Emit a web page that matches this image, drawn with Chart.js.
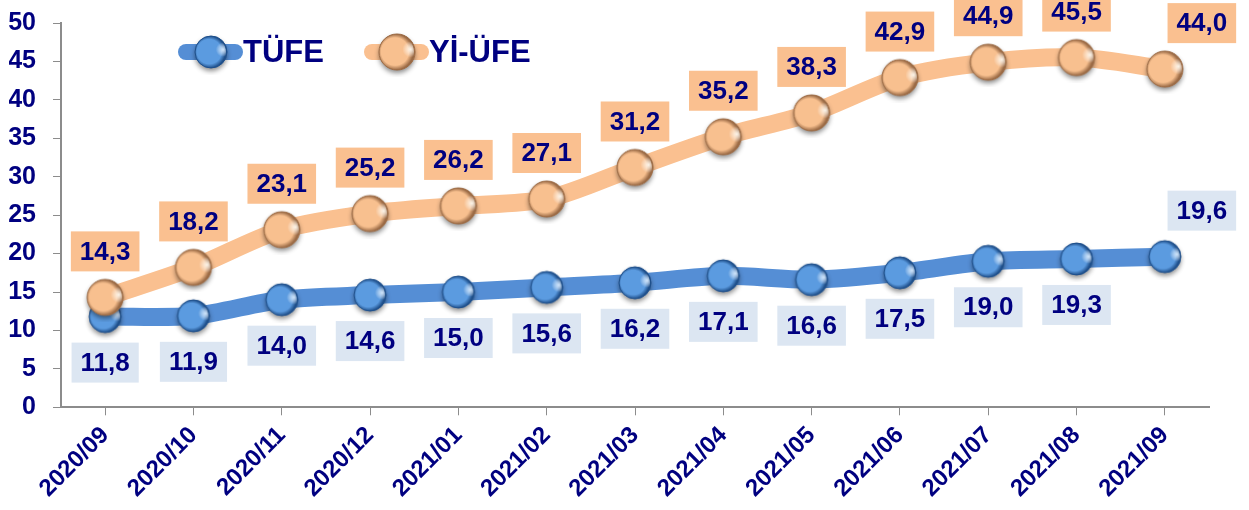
<!DOCTYPE html>
<html>
<head>
<meta charset="utf-8">
<script src="https://cdn.jsdelivr.net/npm/chart.js@4/dist/chart.umd.min.js"></script>
<style>
  html, body { margin: 0; padding: 0; background: #fff; }
  #wrap { width: 1249px; height: 510px; }
</style>
</head>
<body>
<div id="wrap"><canvas id="myChart" width="1249" height="510"></canvas></div>
<script>
const months = ['2020/09', '2020/10', '2020/11', '2020/12', '2021/01', '2021/02', '2021/03',
                '2021/04', '2021/05', '2021/06', '2021/07', '2021/08', '2021/09'];
const tufe = [11.8, 11.9, 14.0, 14.6, 15.0, 15.6, 16.2, 17.1, 16.6, 17.5, 19.0, 19.3, 19.6];
const yiufe = [14.3, 18.2, 23.1, 25.2, 26.2, 27.1, 31.2, 35.2, 38.3, 42.9, 44.9, 45.5, 44.0];
const seriesNames = ['TÜFE', 'Yİ-ÜFE'];

const navy = '#000080';
const blue = '#558ed5';
const orange = '#fac090';
const FONT = '"Liberation Sans", Arial, sans-serif';

// little 3d ball used as point marker
function sphere(r, base, light, dark) {
   const c = document.createElement('canvas');
   const s = r * 2 + 14;
   c.width = s; c.height = s;
   const g = c.getContext('2d');
   const cx = s / 2, cy = s / 2;
   g.save();
   g.shadowColor = 'rgba(0,0,0,0.45)';
   g.shadowBlur = 5;
   g.shadowOffsetY = 3;
   g.beginPath();
   g.arc(cx, cy, r, 0, Math.PI * 2);
   g.fillStyle = base;
   g.fill();
   g.restore();
   const grad = g.createRadialGradient(cx - r * 0.15, cy - r * 0.1, 1, cx - r * 0.1, cy, r);
   grad.addColorStop(0, base);
   grad.addColorStop(0.75, base);
   grad.addColorStop(1, dark);
   g.beginPath();
   g.arc(cx, cy, r, 0, Math.PI * 2);
   g.fillStyle = grad;
   g.fill();
   // bright rim on the right
   const hl = g.createRadialGradient(cx + r * 0.75, cy - r * 0.15, 0, cx + r * 0.75, cy - r * 0.15, r * 0.45);
   hl.addColorStop(0, light);
   hl.addColorStop(1, 'rgba(255,255,255,0)');
   g.save();
   g.beginPath();
   g.arc(cx, cy, r - 1, 0, Math.PI * 2);
   g.clip();
   g.fillStyle = hl;
   g.fillRect(0, 0, s, s);
   g.restore();
   g.beginPath();
   g.arc(cx, cy, r, 0, Math.PI * 2);
   g.lineWidth = 1;
   g.strokeStyle = dark;
   g.stroke();
   return c;
}
const blueBall = sphere(16, '#5b9be0', 'rgba(215,235,255,0.95)', '#1f4f8a');
const orangeBall = sphere(18, '#f8c08f', 'rgba(255,250,240,0.95)', '#9a6a45');

function fmt(v) { return v.toFixed(1).replace('.', ','); }

const labelBoxes = {
   id: 'labelBoxes',
   afterDatasetsDraw(chart) {
      const ctx = chart.ctx;
      ctx.save();
      ctx.font = 'bold 26px ' + FONT;
      ctx.textAlign = 'center';
      ctx.textBaseline = 'middle';
      chart.data.datasets.forEach((ds, di) => {
         const meta = chart.getDatasetMeta(di);
         const last = ds.data.length - 1;
         meta.data.forEach((pt, i) => {
            const txt = fmt(ds.data[i]);
            let x = pt.x, y;
            if (di === 0) {
               y = (i === last) ? pt.y - 46 : pt.y + 46;
            } else {
               y = pt.y - 46;
            }
            if (i === last) x += 37;
            const w = ctx.measureText(txt).width + 18;
            const h = 40;
            ctx.fillStyle = di === 0 ? '#dce6f2' : orange;
            ctx.fillRect(x - w / 2, y - h / 2, w, h);
            ctx.fillStyle = navy;
            ctx.fillText(txt, x, y + 1);
         });
      });

      // legend
      const items = [
         { x: 178, color: blue, ball: blueBall, text: seriesNames[0] },
         { x: 364, color: orange, ball: orangeBall, text: seriesNames[1] }
      ];
      const ly = 52;
      items.forEach(it => {
         ctx.strokeStyle = it.color;
         ctx.lineWidth = 16;
         ctx.lineCap = 'round';
         ctx.beginPath();
         ctx.moveTo(it.x + 8, ly);
         ctx.lineTo(it.x + 57, ly);
         ctx.stroke();
         ctx.drawImage(it.ball, it.x + 33 - it.ball.width / 2, ly - it.ball.height / 2);
         ctx.fillStyle = navy;
         ctx.textAlign = 'left';
         ctx.font = 'bold 31px ' + FONT;
         ctx.fillText(it.text, it.x + 65, ly + 1);
      });
      ctx.restore();
   }
};

new Chart(document.getElementById('myChart'), {
   type: 'line',
   data: {
      labels: months,
      datasets: [
         {
            label: seriesNames[0],
            data: tufe,
            borderColor: blue,
            borderWidth: 18,
            tension: 0.3,
            pointStyle: blueBall,
            pointRadius: 16,
            order: 1
         },
         {
            label: seriesNames[1],
            data: yiufe,
            borderColor: orange,
            borderWidth: 18,
            tension: 0.3,
            pointStyle: orangeBall,
            pointRadius: 18,
            order: 0
         }
      ]
   },
   options: {
      responsive: false,
      animation: false,
      clip: false,
      layout: { autoPadding: false, padding: { left: 9, right: 40, top: 23, bottom: 1 } },
      plugins: {
         legend: { display: false },
         tooltip: { enabled: false }
      },
      scales: {
         x: {
            offset: true,
            afterFit(scale) { scale.paddingLeft = 0; scale.paddingRight = 0; },
            grid: { drawOnChartArea: false, drawTicks: true, tickLength: 8, color: '#8c8c8c' },
            border: { color: '#8c8c8c', width: 2 },
            ticks: {
               color: navy,
               minRotation: 45,
               maxRotation: 45,
               padding: 6,
               font: { family: FONT, size: 24, weight: 'bold' }
            }
         },
         y: {
            min: 0,
            max: 50,
            afterFit(scale) { scale.width = 52; scale.paddingTop = 0; scale.paddingBottom = 0; },
            grid: { drawOnChartArea: false, drawTicks: true, tickLength: 8, color: '#8c8c8c' },
            border: { color: '#8c8c8c', width: 2 },
            ticks: {
               stepSize: 5,
               color: navy,
               padding: 17,
               font: { family: FONT, size: 25, weight: 'bold' }
            }
         }
      }
   },
   plugins: [labelBoxes]
});
</script>
</body>
</html>
